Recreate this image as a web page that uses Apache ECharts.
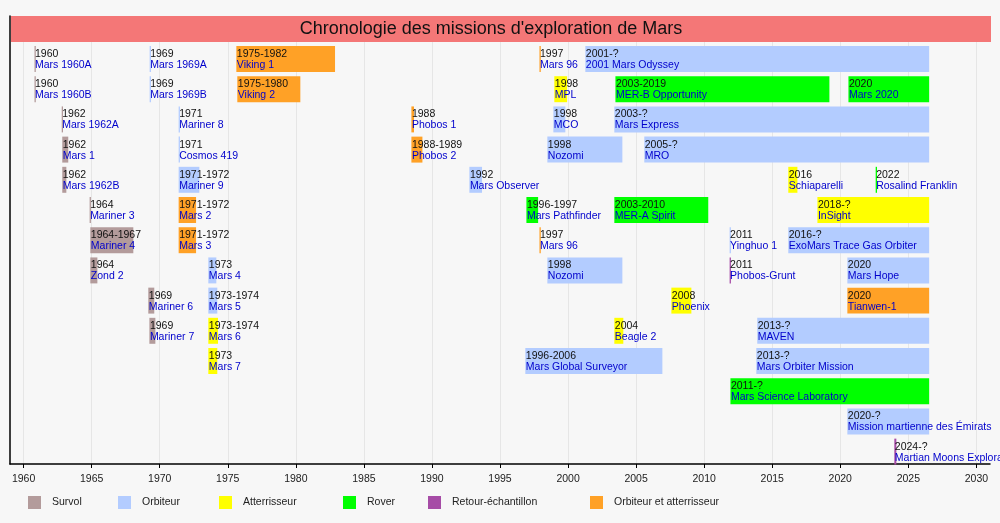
<!DOCTYPE html>
<html>
<head>
<meta charset="utf-8">
<script src="https://cdn.jsdelivr.net/npm/echarts@6/dist/echarts.min.js"></script>
<style>
  html, body { margin: 0; padding: 0; background: #f7f7f7; }
  #chart { width: 1000px; height: 523px; }
</style>
</head>
<body>
<div id="chart"></div>
<script>
// types de mission (legende)
var typeNames = ['Survol', 'Orbiteur', 'Atterrisseur', 'Rover', 'Retour-échantillon', 'Orbiteur et atterrisseur'];
var typeColors = ['#b39b9b', '#b3ccff', '#ffff00', '#00ff00', '#a64ca6', '#ffa126'];

var yearTicks = [1960, 1965, 1970, 1975, 1980, 1985, 1990, 1995, 2000, 2005, 2010, 2015, 2020, 2025, 2030];

// missions : ligne, debut, fin, type
var missionNames = [
  'Mars 1960A', 'Mars 1969A', 'Viking 1', 'Mars 96', '2001 Mars Odyssey',
  'Mars 1960B', 'Mars 1969B', 'Viking 2', 'MPL', 'MER-B Opportunity', 'Mars 2020',
  'Mars 1962A', 'Mariner 8', 'Phobos 1', 'MCO', 'Mars Express',
  'Mars 1', 'Cosmos 419', 'Phobos 2', 'Nozomi', 'MRO',
  'Mars 1962B', 'Mariner 9', 'Mars Observer', 'Schiaparelli', 'Rosalind Franklin',
  'Mariner 3', 'Mars 2', 'Mars Pathfinder', 'MER-A Spirit', 'InSight',
  'Mariner 4', 'Mars 3', 'Mars 96', 'Yinghuo 1', 'ExoMars Trace Gas Orbiter',
  'Zond 2', 'Mars 4', 'Nozomi', 'Phobos-Grunt', 'Mars Hope',
  'Mariner 6', 'Mars 5', 'Phoenix', 'Tianwen-1',
  'Mariner 7', 'Mars 6', 'Beagle 2', 'MAVEN',
  'Mars 7', 'Mars Global Surveyor', 'Mars Orbiter Mission',
  'Mars Science Laboratory',
  'Mission martienne des Émirats',
  'Martian Moons Exploration'
];
var missionYears = [
  '1960', '1969', '1975-1982', '1997', '2001-?',
  '1960', '1969', '1975-1980', '1998', '2003-2019', '2020',
  '1962', '1971', '1988', '1998', '2003-?',
  '1962', '1971', '1988-1989', '1998', '2005-?',
  '1962', '1971-1972', '1992', '2016', '2022',
  '1964', '1971-1972', '1996-1997', '2003-2010', '2018-?',
  '1964-1967', '1971-1972', '1997', '2011', '2016-?',
  '1964', '1973', '1998', '2011', '2020',
  '1969', '1973-1974', '2008', '2020',
  '1969', '1973-1974', '2004', '2013-?',
  '1973', '1996-2006', '2013-?',
  '2011-?',
  '2020-?',
  '2024-?'
];
var missionRow = [
  0, 0, 0, 0, 0,
  1, 1, 1, 1, 1, 1,
  2, 2, 2, 2, 2,
  3, 3, 3, 3, 3,
  4, 4, 4, 4, 4,
  5, 5, 5, 5, 5,
  6, 6, 6, 6, 6,
  7, 7, 7, 7, 7,
  8, 8, 8, 8,
  9, 9, 9, 9,
  10, 10, 10,
  11,
  12,
  13
];
var missionStart = [
  1960.8, 1969.26, 1975.63, 1997.9, 2001.27,
  1960.8, 1969.26, 1975.7, 1998.99, 2003.48, 2020.6,
  1962.8, 1971.39, 1988.49, 1998.92, 2003.4,
  1962.84, 1971.39, 1988.49, 1998.48, 2005.6,
  1962.84, 1971.39, 1992.75, 2016.18, 2022.6,
  1964.85, 1971.39, 1996.94, 2003.4, 2018.32,
  1964.9, 1971.39, 1997.9, 2011.87, 2016.18,
  1964.9, 1973.57, 1998.48, 2011.87, 2020.52,
  1969.16, 1973.57, 2007.59, 2020.52,
  1969.24, 1973.57, 2003.4, 2013.9,
  1973.57, 1996.86, 2013.83,
  2011.93,
  2020.52,
  2023.97
];
var missionEnd = [
  1960.8, 1969.26, 1982.88, 1997.9, 2026.53,
  1960.8, 1969.26, 1980.33, 1999.93, 2019.2, 2026.53,
  1962.8, 1971.39, 1988.68, 1999.8, 2026.53,
  1963.28, 1971.39, 1989.3, 2003.99, 2026.53,
  1963.14, 1972.91, 1993.68, 2016.85, 2022.7,
  1964.85, 1972.67, 1997.8, 2010.3, 2026.53,
  1968.06, 1972.67, 1997.9, 2011.87, 2026.53,
  1965.42, 1974.16, 2003.99, 2011.87, 2026.53,
  1969.6, 1974.23, 2009.06, 2026.53,
  1969.68, 1974.28, 2004.06, 2026.53,
  1974.23, 2006.93, 2026.53,
  2026.53,
  2026.53,
  2024.12
];
var missionType = [
  0, 1, 5, 5, 1,
  0, 1, 5, 2, 3, 3,
  0, 1, 5, 1, 1,
  0, 1, 5, 1, 1,
  0, 1, 1, 2, 3,
  0, 5, 3, 3, 2,
  0, 5, 5, 1, 1,
  0, 1, 1, 4, 1,
  0, 1, 2, 5,
  0, 2, 2, 1,
  2, 1, 1,
  3,
  1,
  4
];

var labelFont = "10.5px 'Liberation Sans', Arial, sans-serif";

function renderMission(params, api) {
  var row = api.value(2);
  var i = api.value(3);
  var p0 = api.coord([api.value(0), row]);
  var p1 = api.coord([api.value(1), row]);
  var h = api.size([0, 1])[1] * 0.86;
  var w = Math.max(p1[0] - p0[0], 1.3);
  var top = p0[1] - h / 2;
  return {
    type: 'group',
    children: [
      { type: 'rect', shape: { x: p0[0], y: top, width: w, height: h }, style: { fill: api.visual('color') } },
      { type: 'text', style: { x: p0[0] + 0.5, y: top + 8, text: missionYears[i], fill: '#111', font: labelFont, align: 'left', verticalAlign: 'middle' } },
      { type: 'text', style: { x: p0[0] + 0.5, y: top + 19, text: missionNames[i], fill: '#0000cc', font: labelFont, align: 'left', verticalAlign: 'middle' } }
    ]
  };
}

var series = typeNames.map(function (nom, t) {
  var data = [];
  missionNames.forEach(function (n, i) {
    if (missionType[i] == t) {
      data.push([missionStart[i], missionEnd[i], missionRow[i], i]);
    }
  });
  return {
    name: nom,
    type: 'custom',
    renderItem: renderMission,
    itemStyle: { color: typeColors[t] },
    encode: { x: [0, 1], y: 2 },
    clip: false,
    silent: true,
    data: data
  };
});

// positions des entrees de legende
var legendLeft = [28, 118, 219, 343, 428, 590];
var legends = typeNames.map(function (nom, t) {
  return {
    data: [nom],
    left: legendLeft[t],
    top: 496,
    padding: 0,
    icon: 'rect',
    itemWidth: 13,
    itemHeight: 13,
    selectedMode: false,
    textStyle: { color: '#222', fontSize: 10.5, fontFamily: 'Liberation Sans', padding: [0, 0, 0, 6] }
  };
});

var chart = echarts.init(document.getElementById('chart'));
chart.setOption({
  backgroundColor: '#f7f7f7',
  animation: false,
  grid: { left: 10, right: 10, top: 16, bottom: 59 },
  xAxis: {
    type: 'value',
    min: 1959,
    max: 2031,
    axisLine: { show: true, onZero: false, lineStyle: { color: '#000', width: 1.5 } },
    axisTick: { show: true, length: 4, customValues: yearTicks, lineStyle: { color: '#000' } },
    axisLabel: {
      customValues: yearTicks, color: '#222', fontSize: 10.5, fontFamily: 'Liberation Sans', margin: 10,
      formatter: function (v) { return String(v); }
    },
    splitLine: { show: true, lineStyle: { color: '#e6e6e6', width: 1 } }
  },
  yAxis: {
    type: 'value',
    inverse: true,
    min: -1.424,
    max: 13.41,
    axisLine: { show: true, onZero: false, lineStyle: { color: '#000', width: 1.5 } },
    axisTick: { show: false },
    axisLabel: { show: false },
    splitLine: { show: false }
  },
  legend: legends,
  graphic: [
    { type: 'rect', left: 11, top: 16, z: 5, shape: { width: 980, height: 26 }, style: { fill: '#f47777' } },
    { type: 'text', x: 491, y: 29, z: 6, style: { text: "Chronologie des missions d'exploration de Mars", fill: '#111', font: "18px 'Liberation Sans', Arial, sans-serif", align: 'center', verticalAlign: 'middle' } }
  ],
  series: series
});
</script>
</body>
</html>
